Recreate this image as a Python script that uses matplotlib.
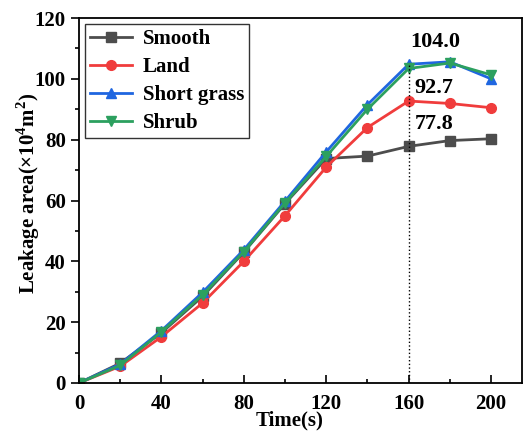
import matplotlib
matplotlib.use('Agg')
import matplotlib.pyplot as plt
from matplotlib.ticker import MultipleLocator

plt.rcParams['font.family'] = 'Liberation Serif'
plt.rcParams['font.weight'] = 'bold'
plt.rcParams['mathtext.fontset'] = 'custom'
plt.rcParams['mathtext.rm'] = 'Liberation Serif:bold'
plt.rcParams['mathtext.bf'] = 'Liberation Serif:bold'

# data
time_s = [0, 20, 40, 60, 80, 100, 120, 140, 160, 180, 200]
smooth = [0, 6.5, 16.5, 28.5, 43.0, 59.0, 73.8, 74.6, 77.8, 79.7, 80.3]
land = [0, 5.5, 15.2, 26.3, 40.0, 55.0, 71.0, 84.0, 92.7, 91.9, 90.5]
short_grass = [0, 6.2, 17.2, 29.8, 43.8, 59.8, 76.0, 91.5, 104.8, 105.6, 100.0]
shrub = [0, 5.8, 16.8, 29.0, 43.2, 59.2, 74.5, 90.0, 103.4, 105.2, 101.3]
labels = ['Smooth', 'Land', 'Short grass', 'Shrub']
notes = ['104.0', '92.7', '77.8']

fig = plt.figure(figsize=(5.24, 4.32), dpi=100)
ax = fig.add_axes([79/524, (432-383)/432, (522-79)/524, (383-18)/432])

ax.plot(time_s, smooth, '-s', color='#4d4d4d', lw=2, ms=7, label=labels[0])
ax.plot(time_s, land, '-o', color='#f03c3c', lw=2, ms=7, label=labels[1])
ax.plot(time_s, short_grass, '-^', color='#1f66e0', lw=2, ms=7.5, label=labels[2])
ax.plot(time_s, shrub, '-v', color='#2ca05f', lw=2, ms=7.5, label=labels[3])

# dotted marker line at t = 160 s with the values
ax.plot([160, 160], [0, short_grass[8]], ':', color='black', lw=1)
ax.text(161, 112.0, notes[0], fontsize=16, fontweight='bold', ha='left', va='center')
ax.text(163, 97.0, notes[1], fontsize=16, fontweight='bold', ha='left', va='center')
ax.text(163, 85.0, notes[2], fontsize=16, fontweight='bold', ha='left', va='center')

ax.set_xlim(0, 215)
ax.set_ylim(0, 120)
ax.xaxis.set_major_locator(MultipleLocator(40))
ax.xaxis.set_minor_locator(MultipleLocator(20))
ax.yaxis.set_major_locator(MultipleLocator(20))
ax.yaxis.set_minor_locator(MultipleLocator(10))
ax.tick_params(axis='x', which='both', direction='in', labelsize=15, pad=8)
ax.tick_params(axis='y', which='both', direction='out', labelsize=15)
ax.tick_params(which='major', length=6, width=1.2)
ax.tick_params(which='minor', length=3, width=1.2)
for s in ax.spines.values():
    s.set_linewidth(1.3)

ax.set_xlabel('Time(s)', fontsize=15, fontweight='bold')
ax.xaxis.set_label_coords(0.475, -0.075)
ax.set_ylabel(r'Leakage area($\times$10$^4$m$^2$)', fontsize=15, fontweight='bold')
ax.yaxis.set_label_coords(-0.083, 0.52)

leg = ax.legend(loc='upper left', fontsize=15, frameon=True, fancybox=False,
                edgecolor='black', borderaxespad=0.3, handlelength=2.0,
                handletextpad=0.5, labelspacing=0.38, borderpad=0.25)
leg.get_frame().set_linewidth(1.0)

fig.savefig('out.png', dpi=100)
